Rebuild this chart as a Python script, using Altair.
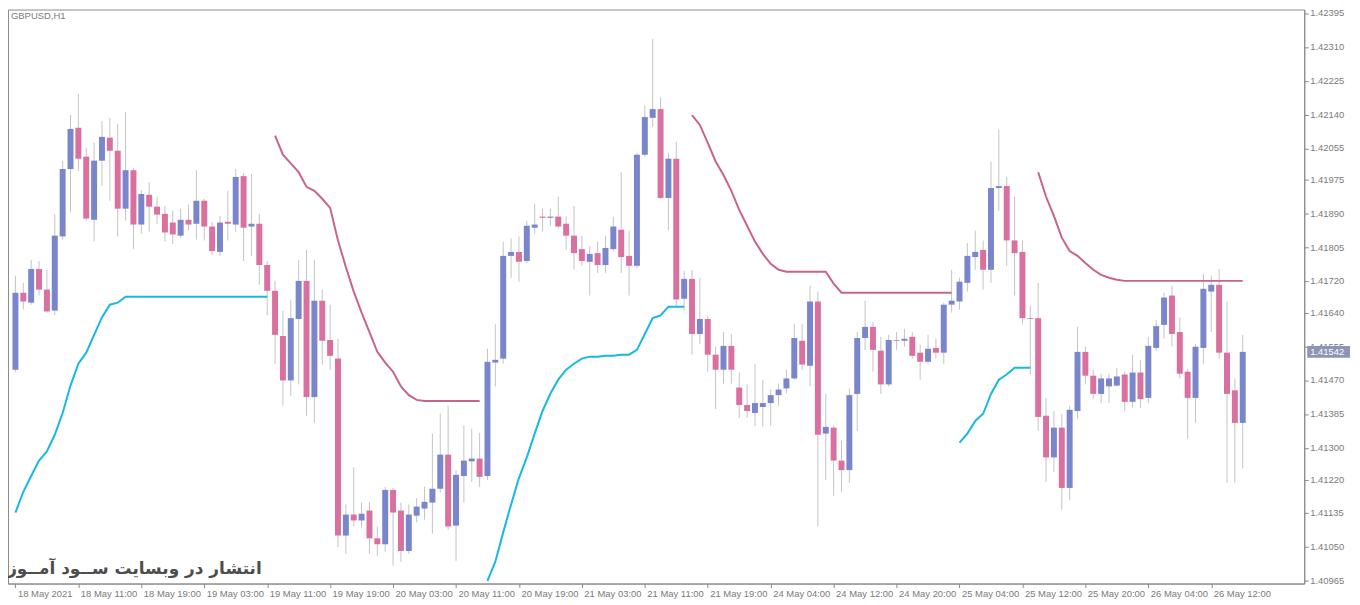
import altair as alt
import pandas as pd

# --- text on the chart ---
symbol_label = "GBPUSD,H1"
watermark = "انتشار در وبسایت ســود آمــوز"
last_price = 1.41542

time_labels = [
    "18 May 2021", "18 May 11:00", "18 May 19:00", "19 May 03:00", "19 May 11:00",
    "19 May 19:00", "20 May 03:00", "20 May 11:00", "20 May 19:00", "21 May 03:00",
    "21 May 11:00", "21 May 19:00", "24 May 04:00", "24 May 12:00", "24 May 20:00",
    "25 May 04:00", "25 May 12:00", "25 May 20:00", "26 May 04:00", "26 May 12:00",
]
# one label every 8 bars (H1)
time_ticks = list(range(0, 8 * len(time_labels), 8))

price_ticks = [
    1.42395, 1.42310, 1.42225, 1.42140, 1.42055, 1.41975, 1.41890, 1.41805, 1.41720,
    1.41640, 1.41555, 1.41470, 1.41385, 1.41300, 1.41220, 1.41135, 1.41050, 1.40965,
]

# --- candles ---
opens = [
    1.41497, 1.41691, 1.41666, 1.41751, 1.41699, 1.41646, 1.41833, 1.42003, 1.42107, 1.42034,
    1.41875, 1.42024, 1.42082, 1.42049, 1.41903, 1.42000, 1.41863, 1.41938, 1.41908, 1.41890,
    1.41868, 1.41835, 1.41875, 1.41865, 1.41923, 1.41858, 1.41794, 1.41870, 1.41863, 1.41985,
    1.41858, 1.41865, 1.41761, 1.41696, 1.41582, 1.41470, 1.41625, 1.41721, 1.41428, 1.41671,
    1.41572, 1.41525, 1.41079, 1.41132, 1.41117, 1.41142, 1.41072, 1.41057, 1.41194, 1.41142,
    1.41040, 1.41129, 1.41147, 1.41162, 1.41197, 1.41283, 1.41104, 1.41229, 1.41266, 1.41273,
    1.41229, 1.41515, 1.41525, 1.41784, 1.41794, 1.41771, 1.41855, 1.41883, 1.41880, 1.41883,
    1.41865, 1.41835, 1.41801, 1.41769, 1.41791, 1.41761, 1.41801, 1.41850, 1.41784, 1.41759,
    1.42039, 1.42132, 1.42154, 1.41930, 1.42029, 1.41676, 1.41726, 1.41587, 1.41625, 1.41535,
    1.41497, 1.41557, 1.41452, 1.41408, 1.41388, 1.41403, 1.41413, 1.41433, 1.41450, 1.41475,
    1.41570, 1.41507, 1.41669, 1.41336, 1.41351, 1.41268, 1.41244, 1.41436, 1.41577, 1.41605,
    1.41545, 1.41460, 1.41572, 1.41570, 1.41580, 1.41540, 1.41517, 1.41552, 1.41540, 1.41661,
    1.41669, 1.41716, 1.41781, 1.41799, 1.41749, 1.41955, 1.41960, 1.41823, 1.41794, 1.41627,
    1.41627, 1.41381, 1.41276, 1.41351, 1.41199, 1.41393, 1.41542, 1.41482, 1.41436, 1.41455,
    1.41457, 1.41485, 1.41416, 1.41490, 1.41426, 1.41552, 1.41610, 1.41684, 1.41592, 1.41492,
    1.41426, 1.41552, 1.41694, 1.41711, 1.41540, 1.41445, 1.41363,
]
highs = [
    1.41734, 1.41716, 1.41774, 1.41771, 1.41749, 1.41890, 1.42024, 1.42139, 1.42192, 1.42057,
    1.42069, 1.42124, 1.42132, 1.42117, 1.42147, 1.42005, 1.41950, 1.41970, 1.41933, 1.41910,
    1.41898, 1.41903, 1.41913, 1.42000, 1.41928, 1.41870, 1.41885, 1.41948, 1.42003, 1.41993,
    1.41990, 1.41890, 1.41771, 1.41721, 1.41646, 1.41674, 1.41774, 1.41799, 1.41774, 1.41699,
    1.41661, 1.41575, 1.41157, 1.41251, 1.41162, 1.41164, 1.41102, 1.41202, 1.41199, 1.41162,
    1.41157, 1.41174, 1.41202, 1.41336, 1.41386, 1.41406, 1.41244, 1.41356, 1.41348, 1.41338,
    1.41550, 1.41612, 1.41820, 1.41828, 1.41833, 1.41873, 1.41915, 1.41903, 1.41903, 1.41933,
    1.41883, 1.41910, 1.41835, 1.41809, 1.41820, 1.41835, 1.41883, 1.41995, 1.41848, 1.42044,
    1.42164, 1.42331, 1.42184, 1.42044, 1.42072, 1.41746, 1.41749, 1.41729, 1.41634, 1.41555,
    1.41592, 1.41587, 1.41490, 1.41460, 1.41512, 1.41472, 1.41447, 1.41462, 1.41497, 1.41612,
    1.41612, 1.41709, 1.41694, 1.41437, 1.41356, 1.41318, 1.41450, 1.41592, 1.41671, 1.41617,
    1.41580, 1.41585, 1.41592, 1.41600, 1.41592, 1.41560, 1.41585, 1.41575, 1.41666, 1.41749,
    1.41729, 1.41816, 1.41848, 1.41823, 1.42022, 1.42102, 1.41983, 1.41933, 1.41823, 1.41659,
    1.41716, 1.41426, 1.41393, 1.41386, 1.41406, 1.41605, 1.41555, 1.41497, 1.41487, 1.41487,
    1.41502, 1.41492, 1.41535, 1.41522, 1.41580, 1.41622, 1.41691, 1.41709, 1.41629, 1.41500,
    1.41562, 1.41739, 1.41734, 1.41751, 1.41669, 1.41475, 1.41585,
]
lows = [
    1.41492, 1.41649, 1.41661, 1.41684, 1.41641, 1.41634, 1.41825, 1.41895, 1.41998, 1.41873,
    1.41820, 1.41960, 1.41923, 1.41833, 1.41873, 1.41801, 1.41840, 1.41845, 1.41865, 1.41820,
    1.41814, 1.41830, 1.41848, 1.41825, 1.41823, 1.41786, 1.41784, 1.41823, 1.41845, 1.41771,
    1.41784, 1.41711, 1.41634, 1.41512, 1.41406, 1.41431, 1.41460, 1.41381, 1.41363, 1.41510,
    1.41497, 1.41050, 1.41033, 1.41102, 1.41099, 1.41033, 1.41028, 1.41038, 1.41003, 1.41013,
    1.41033, 1.41112, 1.41119, 1.41084, 1.41187, 1.41094, 1.41015, 1.41162, 1.41214, 1.41202,
    1.41219, 1.41455, 1.41512, 1.41729, 1.41719, 1.41766, 1.41840, 1.41845, 1.41860, 1.41853,
    1.41799, 1.41749, 1.41759, 1.41684, 1.41741, 1.41741, 1.41796, 1.41741, 1.41684, 1.41754,
    1.42034, 1.42109, 1.41928, 1.41848, 1.41654, 1.41646, 1.41535, 1.41562, 1.41492, 1.41398,
    1.41462, 1.41462, 1.41376, 1.41376, 1.41355, 1.41353, 1.41355, 1.41406, 1.41437, 1.41472,
    1.41497, 1.41455, 1.41102, 1.41219, 1.41179, 1.41189, 1.41212, 1.41343, 1.41547, 1.41492,
    1.41436, 1.41455, 1.41547, 1.41555, 1.41525, 1.41472, 1.41512, 1.41525, 1.41512, 1.41641,
    1.41649, 1.41694, 1.41749, 1.41699, 1.41716, 1.41898, 1.41759, 1.41684, 1.41612, 1.41485,
    1.41343, 1.41214, 1.41239, 1.41144, 1.41169, 1.41373, 1.41460, 1.41423, 1.41413, 1.41413,
    1.41455, 1.41393, 1.41401, 1.41401, 1.41413, 1.41545, 1.41575, 1.41555, 1.41475, 1.41323,
    1.41363, 1.41512, 1.41592, 1.41525, 1.41212, 1.41212, 1.41248,
]
closes = [
    1.41691, 1.41669, 1.41751, 1.41699, 1.41644, 1.41835, 1.42003, 1.42104, 1.42029, 1.41878,
    1.42024, 1.42084, 1.42049, 1.41903, 1.42000, 1.41863, 1.41940, 1.41908, 1.41888, 1.41843,
    1.41838, 1.41875, 1.41863, 1.41923, 1.41858, 1.41796, 1.41868, 1.41865, 1.41983, 1.41855,
    1.41865, 1.41761, 1.41696, 1.41585, 1.41470, 1.41627, 1.41721, 1.41428, 1.41671, 1.41570,
    1.41532, 1.41079, 1.41132, 1.41117, 1.41134, 1.41072, 1.41057, 1.41194, 1.41137, 1.41040,
    1.41132, 1.41152, 1.41164, 1.41197, 1.41283, 1.41102, 1.41232, 1.41268, 1.41273, 1.41227,
    1.41517, 1.41522, 1.41784, 1.41794, 1.41769, 1.41860, 1.41863, 1.41880, 1.41883, 1.41858,
    1.41835, 1.41791, 1.41771, 1.41789, 1.41761, 1.41804, 1.41858, 1.41781, 1.41759, 1.42039,
    1.42134, 1.42154, 1.41930, 1.42029, 1.41674, 1.41726, 1.41587, 1.41625, 1.41535, 1.41497,
    1.41557, 1.41497, 1.41408, 1.41393, 1.41413, 1.41413, 1.41433, 1.41447, 1.41475, 1.41577,
    1.41510, 1.41669, 1.41333, 1.41353, 1.41268, 1.41244, 1.41433, 1.41577, 1.41605, 1.41547,
    1.41460, 1.41572, 1.41570, 1.41575, 1.41532, 1.41517, 1.41550, 1.41540, 1.41661, 1.41671,
    1.41719, 1.41784, 1.41794, 1.41749, 1.41955, 1.41960, 1.41823, 1.41791, 1.41627, 1.41625,
    1.41378, 1.41276, 1.41351, 1.41199, 1.41396, 1.41542, 1.41482, 1.41436, 1.41475, 1.41475,
    1.41480, 1.41416, 1.41490, 1.41423, 1.41557, 1.41607, 1.41679, 1.41587, 1.41487, 1.41426,
    1.41555, 1.41701, 1.41711, 1.41540, 1.41436, 1.41363, 1.41542,
]

# --- indicator band (drawn in pieces, first bar index of each piece) ---
upper_a_start = 33
upper_a = [
    1.42087, 1.42039, 1.42017, 1.41995, 1.41958, 1.41948, 1.41928, 1.41905, 1.41823, 1.41756,
    1.41694, 1.41641, 1.41592, 1.41542, 1.41515, 1.41492, 1.41455, 1.41433, 1.41421, 1.41418,
    1.41418, 1.41418, 1.41418, 1.41418, 1.41418, 1.41418, 1.41418,
]
upper_b_start = 86
upper_b = [
    1.42139, 1.42114, 1.42069, 1.42022, 1.41988, 1.41948, 1.41900, 1.41860, 1.41820, 1.41789,
    1.41764, 1.41749, 1.41744, 1.41744, 1.41744, 1.41744, 1.41744, 1.41744, 1.41714, 1.41691,
    1.41691, 1.41691, 1.41691, 1.41691, 1.41691, 1.41691, 1.41691, 1.41691, 1.41691, 1.41691,
    1.41691, 1.41691, 1.41691, 1.41691,
]
upper_c_start = 130
upper_c = [
    1.41995, 1.41933, 1.41885, 1.41830, 1.41796, 1.41784, 1.41766, 1.41749, 1.41736, 1.41729,
    1.41724, 1.41721, 1.41721, 1.41721, 1.41721, 1.41721, 1.41721, 1.41721, 1.41721, 1.41721,
    1.41721, 1.41721, 1.41721, 1.41721, 1.41721, 1.41721, 1.41721,
]
lower_a_start = 0
lower_a = [
    1.41137, 1.41189, 1.41229, 1.41268, 1.41291, 1.41333, 1.41388, 1.41457, 1.41512, 1.41540,
    1.41585, 1.41629, 1.41661, 1.41666, 1.41681, 1.41681, 1.41681, 1.41681, 1.41681, 1.41681,
    1.41681, 1.41681, 1.41681, 1.41681, 1.41681, 1.41681, 1.41681, 1.41681, 1.41681, 1.41681,
    1.41681, 1.41681, 1.41681,
]
lower_b_start = 60
lower_b = [
    1.40965, 1.41013, 1.41087, 1.41157, 1.41224, 1.41276, 1.41336, 1.41393, 1.41437, 1.41472,
    1.41497, 1.41512, 1.41525, 1.41530, 1.41530, 1.41532, 1.41532, 1.41535, 1.41535, 1.41547,
    1.41587, 1.41627, 1.41634, 1.41656, 1.41656, 1.41656,
]
lower_c_start = 120
lower_c = [
    1.41313, 1.41336, 1.41368, 1.41386, 1.41436, 1.41472, 1.41485, 1.41502, 1.41502, 1.41502,
]

BULL = "#7a86cb"
BEAR = "#d9709f"
UPPER = "#c9638e"
LOWER = "#17b8e3"
WICK = "#c4c4c4"
GRAY_TEXT = "#7a7a7a"
FONT = "Liberation Sans"

candles = pd.DataFrame(
    {"i": range(len(opens)), "open": opens, "high": highs, "low": lows, "close": closes}
)
candles["dir"] = ["up" if c >= o else "down" for o, c in zip(opens, closes)]

rows = []
pieces = [
    ("upper", "ua", upper_a_start, upper_a),
    ("upper", "ub", upper_b_start, upper_b),
    ("upper", "uc", upper_c_start, upper_c),
    ("lower", "la", lower_a_start, lower_a),
    ("lower", "lb", lower_b_start, lower_b),
    ("lower", "lc", lower_c_start, lower_c),
]
for band, seg, start, vals in pieces:
    for k, v in enumerate(vals):
        rows.append({"i": start + k, "value": v, "band": band, "seg": seg})
bands = pd.DataFrame(rows)

ticks_df = pd.DataFrame({"price": price_ticks, "label": [f"{p:.5f}" for p in price_ticks]})

x_scale = alt.Scale(domain=[-0.3125, 163.1875], nice=False, zero=False)
y_scale = alt.Scale(domain=[1.40958, 1.42405], nice=False, zero=False)
color_scale = alt.Scale(
    domain=["up", "down", "upper", "lower"], range=[BULL, BEAR, UPPER, LOWER]
)

label_array = "[" + ",".join("'" + t + "'" for t in time_labels) + "]"
x_axis = alt.Axis(
    values=time_ticks,
    labelExpr=label_array + "[datum.value / 8]",
    title=None,
    grid=False,
    orient="bottom",
    tickSize=4,
    tickColor="#8a8a8a",
    domainColor="#8a8a8a",
    labelAlign="left",
    labelBaseline="top",
    labelOffset=2,
    labelPadding=1,
    labelFont=FONT,
    labelFontSize=9.5,
    labelColor=GRAY_TEXT,
    labelOverlap=False,
    labelFlush=False,
)
# price labels are drawn as a text layer below, the axis only gives the ticks
y_axis = alt.Axis(
    values=price_ticks,
    labels=False,
    title=None,
    grid=False,
    orient="right",
    tickSize=4,
    tickColor="#8a8a8a",
    domainColor="#8a8a8a",
)

wicks = alt.Chart(candles).mark_rule(color=WICK, strokeWidth=1).encode(
    x=alt.X("i:Q", scale=x_scale, axis=x_axis),
    y=alt.Y("low:Q", scale=y_scale, axis=y_axis),
    y2="high:Q",
)

bodies = alt.Chart(candles).mark_bar(width=6).encode(
    x=alt.X("i:Q", scale=x_scale, axis=x_axis),
    y=alt.Y("open:Q", scale=y_scale, axis=y_axis),
    y2="close:Q",
    color=alt.Color("dir:N", scale=color_scale, legend=None),
)

band_lines = alt.Chart(bands).mark_line(strokeWidth=2).encode(
    x=alt.X("i:Q", scale=x_scale, axis=x_axis),
    y=alt.Y("value:Q", scale=y_scale, axis=y_axis),
    detail="seg:N",
    color=alt.Color("band:N", scale=color_scale, legend=None),
)

price_labels = alt.Chart(ticks_df).mark_text(
    align="left", baseline="middle", color=GRAY_TEXT, font=FONT, fontSize=9.5
).encode(x=alt.value(1309), y=alt.Y("price:Q", scale=y_scale, axis=y_axis), text="label:N")

price_df = pd.DataFrame({"price": [last_price], "label": [f"{last_price:.5f}"]})
price_box = alt.Chart(price_df).mark_tick(
    orient="horizontal", size=43, thickness=12, color="#8c95b3", opacity=1
).encode(x=alt.value(1327.5), y=alt.Y("price:Q", scale=y_scale, axis=y_axis))
price_text = alt.Chart(price_df).mark_text(
    align="left", baseline="middle", color="white", font=FONT, fontSize=9.5
).encode(x=alt.value(1309), y=alt.Y("price:Q", scale=y_scale, axis=y_axis), text="label:N")

symbol_text = alt.Chart(pd.DataFrame({"t": [symbol_label]})).mark_text(
    align="left", baseline="top", color=GRAY_TEXT, font=FONT, fontSize=9.5
).encode(x=alt.value(3), y=alt.value(2), text="t:N")

mark_text = alt.Chart(pd.DataFrame({"t": [watermark]})).mark_text(
    align="right",
    baseline="alphabetic",
    color="#4d4d4d",
    font="DejaVu Sans",
    fontSize=17,
    fontWeight="bold",
).encode(x=alt.value(255), y=alt.value(567), text="t:N")

chart = (
    alt.layer(
        wicks, bodies, band_lines, price_labels, price_box, price_text, symbol_text, mark_text
    )
    .properties(
        width=1303,
        height=577,
        autosize=alt.AutoSizeParams(type="none"),
        padding={"left": 0, "top": 0, "right": 48, "bottom": 16},
        background="white",
    )
    .configure_view(stroke="#8a8a8a", strokeWidth=1)
)

chart.save("out.html", embed_options={"renderer": "svg", "actions": False})
